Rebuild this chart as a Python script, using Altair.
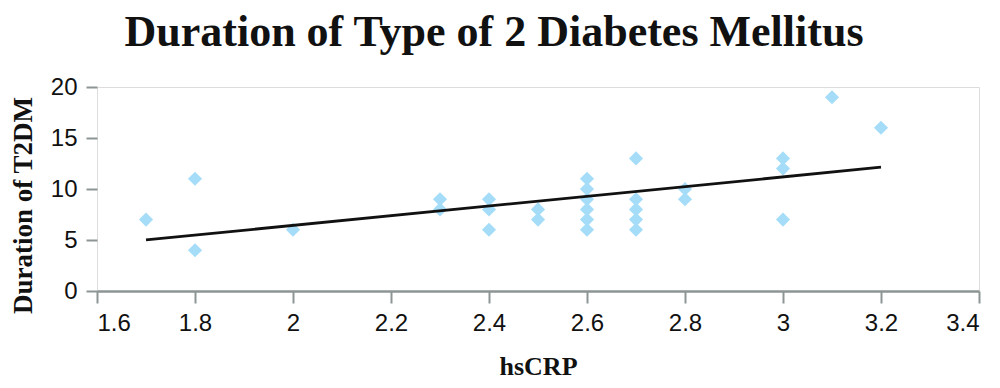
import altair as alt
import pandas as pd

hscrp = [1.7, 1.8, 1.8, 2.0, 2.3, 2.3, 2.4, 2.4, 2.4, 2.5, 2.5,
         2.6, 2.6, 2.6, 2.6, 2.6, 2.6, 2.7, 2.7, 2.7, 2.7, 2.7,
         2.8, 2.8, 3.0, 3.0, 3.0, 3.1, 3.2]
duration = [7, 11, 4, 6, 9, 8, 9, 8, 6, 8, 7,
            11, 10, 9, 8, 7, 6, 13, 9, 8, 7, 6,
            10, 9, 13, 12, 7, 19, 16]
x_ticks = [1.6, 1.8, 2.0, 2.2, 2.4, 2.6, 2.8, 3.0, 3.2, 3.4]
y_ticks = [0, 5, 10, 15, 20]

df = pd.DataFrame({"hsCRP": hscrp, "duration": duration})

serif = "Liberation Serif"
sans = "Liberation Sans"
gray = "#8c9494"

x_enc = alt.X("hsCRP:Q",
              scale=alt.Scale(domain=[1.6, 3.4], nice=False, zero=False),
              axis=alt.Axis(values=x_ticks, format=".1~f", grid=False,
                            domain=True, domainColor=gray, domainWidth=2.5,
                            tickColor=gray, tickWidth=2, tickSize=12,
                            labelFont=sans, labelFontSize=24, labelColor="#111",
                            labelPadding=8,
                            title="hsCRP", titleFont=serif, titleFontSize=26,
                            titleFontWeight="bold", titleColor="#111",
                            titleX=441, titleY=83, titleBaseline="alphabetic"))
y_enc = alt.Y("duration:Q",
              scale=alt.Scale(domain=[0, 20], nice=False),
              axis=alt.Axis(values=y_ticks, grid=False, domain=False,
                            tickColor=gray, tickWidth=2, tickSize=11,
                            labelFont=sans, labelFontSize=24, labelColor="#111",
                            labelPadding=9,
                            title="Duration of T2DM", titleFont=serif,
                            titleFontSize=27, titleFontWeight="bold",
                            titleColor="#111", titleAngle=270,
                            titleX=-74, titleY=118, titleBaseline="middle",
                            titleAlign="center"))

points = alt.Chart(df).mark_point(
    shape="diamond", filled=True, size=200, color="#a5ddf9", opacity=1
).encode(x=x_enc, y=y_enc)

trend = alt.Chart(df).transform_regression(
    "hsCRP", "duration"
).mark_line(color="#111111", strokeWidth=2.8).encode(
    x=alt.X("hsCRP:Q"), y=alt.Y("duration:Q")
)

chart = alt.layer(points, trend).properties(
    width=882, height=204,
    autosize=alt.AutoSizeParams(type="none"),
    padding={"left": 89, "top": 79, "right": 13, "bottom": 89},
    title=alt.TitleParams(
        text="Duration of Type of 2 Diabetes Mellitus",
        font=serif, fontSize=44, fontWeight="bold", color="#111",
        anchor="middle", dx=-44, offset=20
    )
).configure_view(stroke=None).configure(background="white")

chart.save("out.html", embed_options={"renderer": "svg", "actions": False})
